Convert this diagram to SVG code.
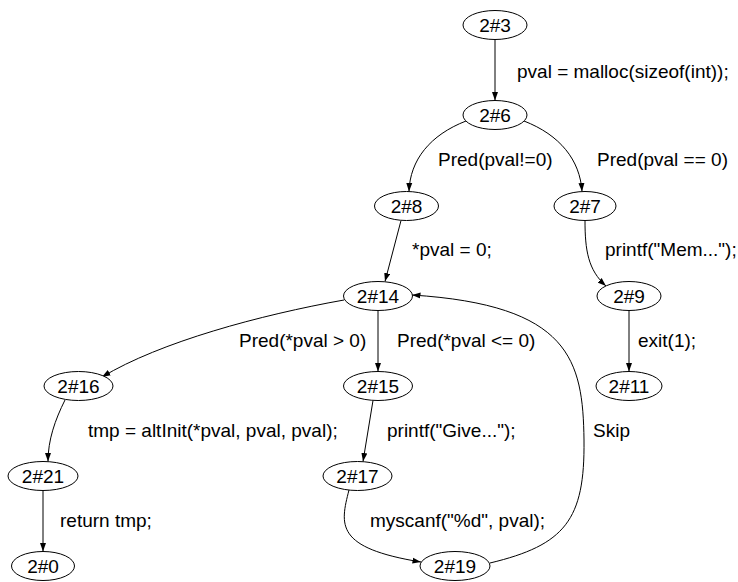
<svg xmlns="http://www.w3.org/2000/svg" width="738" height="582" viewBox="0 0 738 582">
<defs>
<marker id="ah" markerWidth="9" markerHeight="7" refX="8.5" refY="3.5" orient="auto" markerUnits="userSpaceOnUse">
<path d="M0,0.5 L8.5,3.5 L0,6.5 Z" fill="#000"/>
</marker>
<style>
.n ellipse{fill:#fff;stroke:#000;stroke-width:1}
text{font-family:"Liberation Sans",Arial,sans-serif;font-size:19px;fill:#000}
.n text{text-anchor:middle}
.e path{fill:none;stroke:#000;stroke-width:1;marker-end:url(#ah)}
</style>
</defs>
<rect width="738" height="582" fill="#fff"/>
<g id="edges" class="e">
<path d="M495,39.5 L495,100.5"/>
<path d="M466,121 C430,135 410,160 409,191.5"/>
<path d="M524,121 C560,135 580,160 582,191.5"/>
<path d="M401,220.5 L385,281.5"/>
<path d="M585,220.5 C585,250 588,270 606,286"/>
<path d="M344,300 C260,315 160,342 102,377"/>
<path d="M378,310.5 L378,371.5"/>
<path d="M629,310.5 L629,371.5"/>
<path d="M65,400 C55,420 48,440 48,461.5"/>
<path d="M373,400.5 L363,461.5"/>
<path d="M43,490.5 L43,551.5"/>
<path d="M349,490 C340,525 335,548 421,562"/>
<path d="M490,563 C565,545 585,520 584,440 C583,360 570,305 412,295"/>
</g>
<g id="labels">
<text x="517" y="78">pval = malloc(sizeof(int));</text>
<text x="438" y="166">Pred(pval!=0)</text>
<text x="597" y="166">Pred(pval == 0)</text>
<text x="412" y="256">*pval = 0;</text>
<text x="605" y="256">printf("Mem...");</text>
<text x="239" y="347">Pred(*pval &gt; 0)</text>
<text x="397" y="347">Pred(*pval &lt;= 0)</text>
<text x="638" y="347">exit(1);</text>
<text x="88" y="437">tmp = altInit(*pval, pval, pval);</text>
<text x="387" y="437">printf("Give...");</text>
<text x="593" y="437">Skip</text>
<text x="60" y="527">return tmp;</text>
<text x="370" y="527">myscanf("%d", pval);</text>
</g>
<g id="n3" class="n"><ellipse cx="495" cy="25" rx="32" ry="14.5"/><text x="495" y="32">2#3</text></g>
<g id="n6" class="n"><ellipse cx="495" cy="115" rx="32" ry="14.5"/><text x="495" y="122">2#6</text></g>
<g id="n8" class="n"><ellipse cx="406.5" cy="206" rx="32" ry="14.5"/><text x="406.5" y="213">2#8</text></g>
<g id="n7" class="n"><ellipse cx="585" cy="206" rx="31" ry="14.5"/><text x="585" y="213">2#7</text></g>
<g id="n14" class="n"><ellipse cx="378" cy="296" rx="34.5" ry="14.5"/><text x="378" y="303">2#14</text></g>
<g id="n9" class="n"><ellipse cx="629" cy="296" rx="32" ry="14.5"/><text x="629" y="303">2#9</text></g>
<g id="n16" class="n"><ellipse cx="78.5" cy="386" rx="34.5" ry="14.5"/><text x="78.5" y="393">2#16</text></g>
<g id="n15" class="n"><ellipse cx="378" cy="386" rx="34.5" ry="14.5"/><text x="378" y="393">2#15</text></g>
<g id="n11" class="n"><ellipse cx="629" cy="386" rx="33" ry="14.5"/><text x="629" y="393">2#11</text></g>
<g id="n21" class="n"><ellipse cx="43" cy="476" rx="35" ry="14.5"/><text x="43" y="483">2#21</text></g>
<g id="n17" class="n"><ellipse cx="357.5" cy="476" rx="34.5" ry="14.5"/><text x="357.5" y="483">2#17</text></g>
<g id="n0" class="n"><ellipse cx="43" cy="566" rx="31.5" ry="14.5"/><text x="43" y="573">2#0</text></g>
<g id="n19" class="n"><ellipse cx="455" cy="566" rx="35" ry="14.5"/><text x="455" y="573">2#19</text></g>
</svg>
